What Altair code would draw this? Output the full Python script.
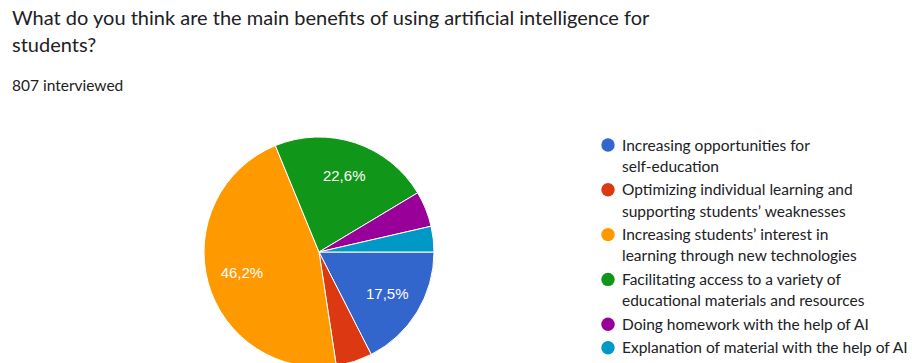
import math
import altair as alt
import pandas as pd

TITLE_LINES = [
    "What do you think are the main benefits of using artificial intelligence for",
    "students?",
]
SUBTITLE = "807 interviewed"

CATEGORIES = [
    "Increasing opportunities for self-education",
    "Optimizing individual learning and supporting students’ weaknesses",
    "Increasing students’ interest in learning through new technologies",
    "Facilitating access to a variety of educational materials and resources",
    "Doing homework with the help of AI",
    "Explanation of material with the help of AI",
]
LEGEND_TEXT = [
    "Increasing opportunities for\nself-education",
    "Optimizing individual learning and\nsupporting students’ weaknesses",
    "Increasing students’ interest in\nlearning through new technologies",
    "Facilitating access to a variety of\neducational materials and resources",
    "Doing homework with the help of AI",
    "Explanation of material with the help of AI",
]
VALUES = [17.5, 5.1, 46.2, 22.6, 5.0, 3.6]
LABELS = ["17,5%", "", "46,2%", "22,6%", "", ""]
COLORS = ["#3366CC", "#DC3912", "#FF9900", "#109618", "#990099", "#0099C6"]

# layout
CX, CY, R = 319, 252, 115
LEG_X, LEG_Y0, LINE_H, GAP = 608, 145, 21.3, 2.2

pie_df = pd.DataFrame({
    "category": CATEGORIES,
    "value": VALUES,
    "label": LABELS,
    "idx": list(range(len(CATEGORIES))),
})

ys = []
y = LEG_Y0
for t in LEGEND_TEXT:
    ys.append(y)
    y += t.count("\n") * LINE_H + LINE_H + GAP
legend_df = pd.DataFrame({
    "category": CATEGORIES,
    "text": LEGEND_TEXT,
    "y": ys,
    "ty": [v + 5.5 for v in ys],
})

title_df = pd.DataFrame({"text": TITLE_LINES + [SUBTITLE],
                         "y": [25, 52, 91],
                         "size": [20, 20, 15.5]})

color_scale = alt.Scale(domain=CATEGORIES, range=COLORS)
theta = alt.Theta("value:Q", stack=True,
                  scale=alt.Scale(range=[math.pi / 2, math.pi / 2 + 2 * math.pi]))

arcs = alt.Chart(pie_df).mark_arc(radius=R, stroke="white", strokeWidth=1).encode(
    theta=theta,
    color=alt.Color("category:N", scale=color_scale, legend=None),
    order=alt.Order("idx:Q"),
    x=alt.value(CX),
    y=alt.value(CY),
)

pie_labels = alt.Chart(pie_df).mark_text(
    radius=80, font="Liberation Sans", fontSize=15, color="white"
).encode(
    theta=theta,
    detail=alt.Detail("category:N"),
    order=alt.Order("idx:Q"),
    text="label:N",
    x=alt.value(CX),
    y=alt.value(CY),
)

leg_dots = alt.Chart(legend_df).mark_point(filled=True, size=180, opacity=1).encode(
    x=alt.value(LEG_X),
    y=alt.Y("y:Q", scale=None),
    color=alt.Color("category:N", scale=color_scale, legend=None),
)

leg_text = alt.Chart(legend_df).mark_text(
    align="left", baseline="alphabetic", lineBreak="\n", font="Lato",
    fontSize=15.5, lineHeight=LINE_H, color="#202124"
).encode(
    x=alt.value(LEG_X + 14),
    y=alt.Y("ty:Q", scale=None),
    text="text:N",
)

titles = alt.Chart(title_df).mark_text(
    align="left", baseline="alphabetic", font="Lato", color="#202124"
).encode(
    x=alt.value(12),
    y=alt.Y("y:Q", scale=None),
    text="text:N",
    size=alt.Size("size:Q", scale=None, legend=None),
)

chart = alt.layer(arcs, pie_labels, leg_dots, leg_text, titles).properties(
    width=912, height=363, padding=0,
    autosize=alt.AutoSizeParams(type="none"),
    background="white",
).configure_view(stroke=None)

chart.save("out.html", embed_options={"renderer": "svg", "actions": False})
